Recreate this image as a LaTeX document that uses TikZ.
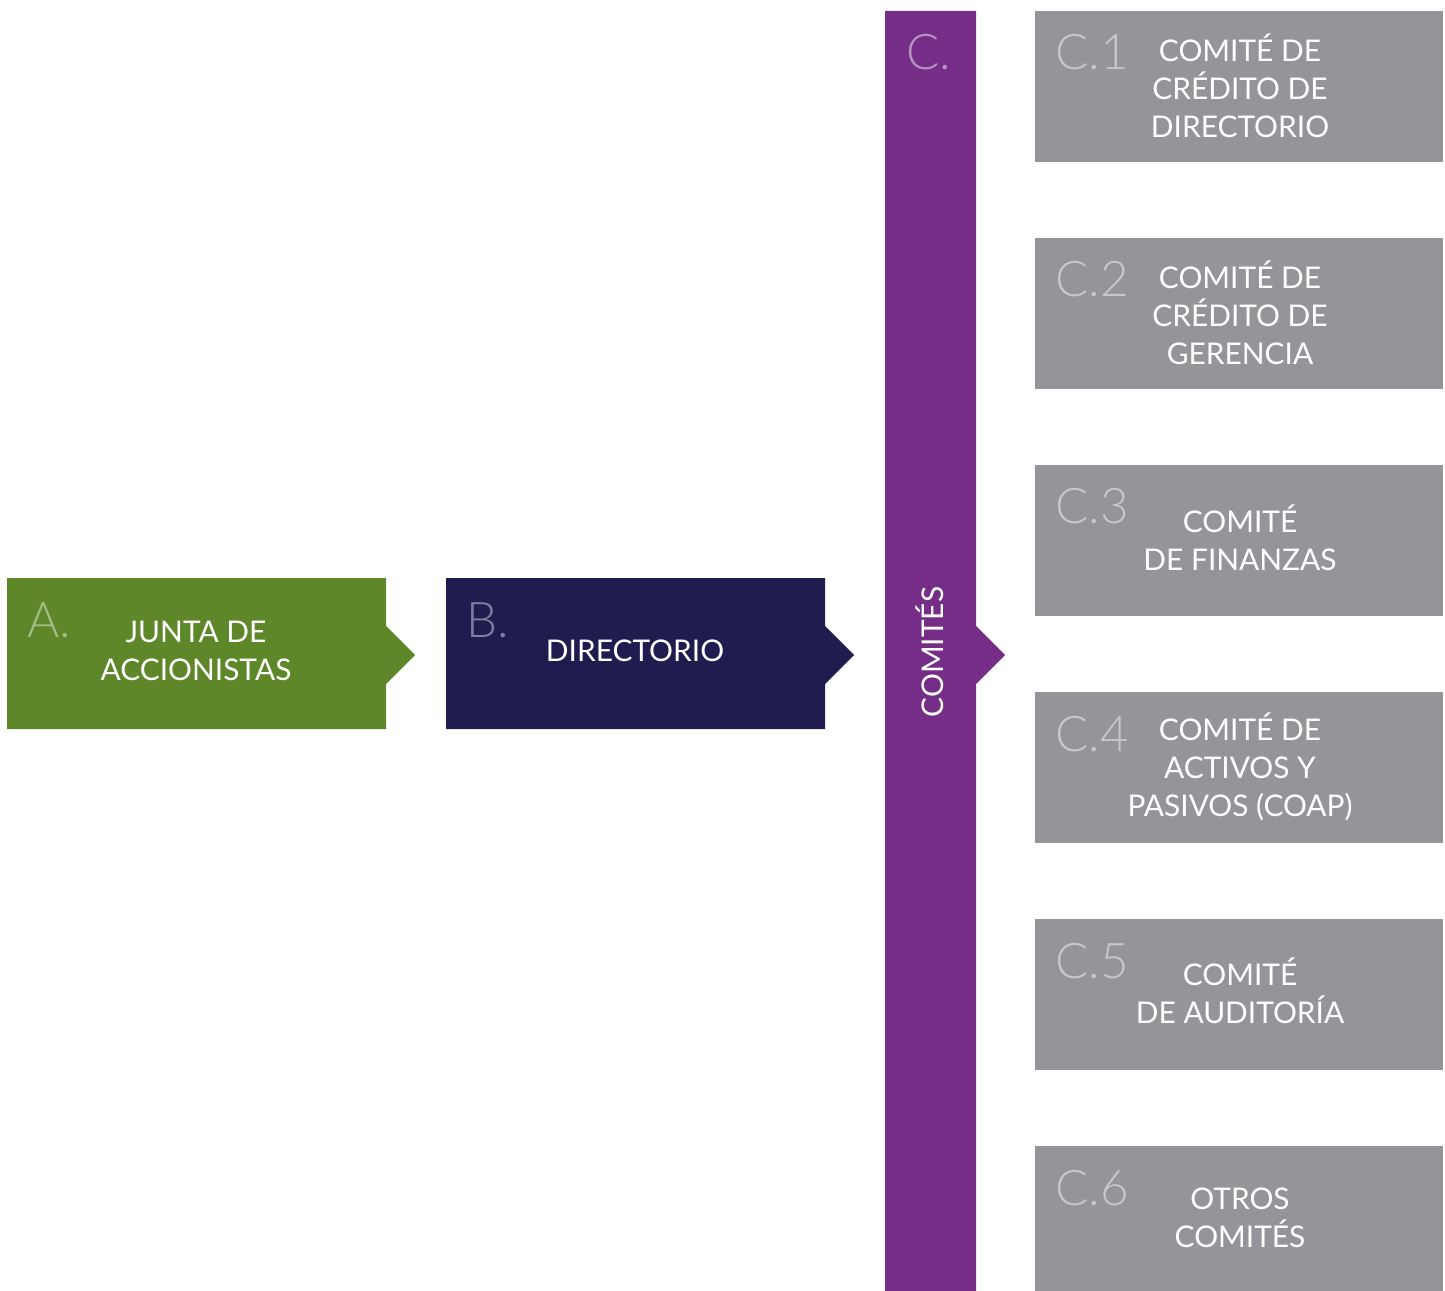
\documentclass[tikz,border=0pt]{standalone}
\usepackage{fontspec}
\setmainfont{Lato}
\newfontfamily\thinfont{Lato Light}
\definecolor{juntagreen}{HTML}{5D8728}
\definecolor{juntalabel}{HTML}{A3BD86}
\definecolor{dirnavy}{HTML}{201C50}
\definecolor{dirlabel}{HTML}{807E9E}
\definecolor{compurple}{HTML}{752D88}
\definecolor{comlabel}{HTML}{B593C0}
\definecolor{subgray}{HTML}{949599}
\definecolor{sublabel}{HTML}{C6C7C9}
\tikzset{
  boxtext/.style={text=white, align=center, inner sep=0pt,
    font=\fontsize{17}{21.5}\selectfont},
  letter/.style={anchor=base west, inner sep=0pt,
    font=\thinfont\fontsize{28}{28}\selectfont},
}
\begin{document}
\begin{tikzpicture}[x=0.2mm,y=-0.2mm]
\useasboundingbox (0,0) rectangle (1445,1291);
% A. junta
\fill[juntagreen] (7,578) -- (386,578) -- (386,626) -- (415,655) -- (386,684)
  -- (386,729) -- (7,729) -- cycle;
\node[letter, text=juntalabel] (alabel) at (27,637) {A.};
\node[boxtext] (junta) at (196,651) {JUNTA DE\\ACCIONISTAS};
% B. directorio
\fill[dirnavy] (446,578) -- (825,578) -- (825,626) -- (854,655) -- (825,684)
  -- (825,729) -- (446,729) -- cycle;
\node[letter, text=dirlabel] (blabel) at (466,637) {B.};
\node[boxtext] (directorio) at (635,651) {DIRECTORIO};
% C. comites
\fill[compurple] (885,11) -- (976,11) -- (976,626) -- (1005,655) -- (976,684)
  -- (976,1291) -- (885,1291) -- cycle;
\node[letter, text=comlabel] (clabel) at (906,70) {C.};
\node[boxtext, rotate=90] (comites) at (930,652) {COMITÉS};
% sub-comites
\fill[subgray] (1035,11) rectangle (1443,162);
\fill[subgray] (1035,238) rectangle (1443,389);
\fill[subgray] (1035,465) rectangle (1443,616);
\fill[subgray] (1035,692) rectangle (1443,843);
\fill[subgray] (1035,919) rectangle (1443,1070);
\fill[subgray] (1035,1146) rectangle (1443,1291);
\node[letter, text=sublabel] (c1label) at (1055,70) {C.1};
\node[letter, text=sublabel] (c2label) at (1055,297) {C.2};
\node[letter, text=sublabel] (c3label) at (1055,524) {C.3};
\node[letter, text=sublabel] (c4label) at (1055,751) {C.4};
\node[letter, text=sublabel] (c5label) at (1055,978) {C.5};
\node[letter, text=sublabel] (c6label) at (1055,1205) {C.6};
\node[boxtext] (credito) at (1240,86) {COMITÉ DE\\CRÉDITO DE\\DIRECTORIO};
\node[boxtext] (gerencia) at (1240,313) {COMITÉ DE\\CRÉDITO DE\\GERENCIA};
\node[boxtext] (finanzas) at (1240,538) {COMITÉ\\DE FINANZAS};
\node[boxtext] (coap) at (1240,767) {COMITÉ DE\\ACTIVOS Y\\PASIVOS (COAP)};
\node[boxtext] (auditoria) at (1240,991) {COMITÉ\\DE AUDITORÍA};
\node[boxtext] (otros) at (1240,1218) {OTROS\\COMITÉS};
\end{tikzpicture}
\end{document}
